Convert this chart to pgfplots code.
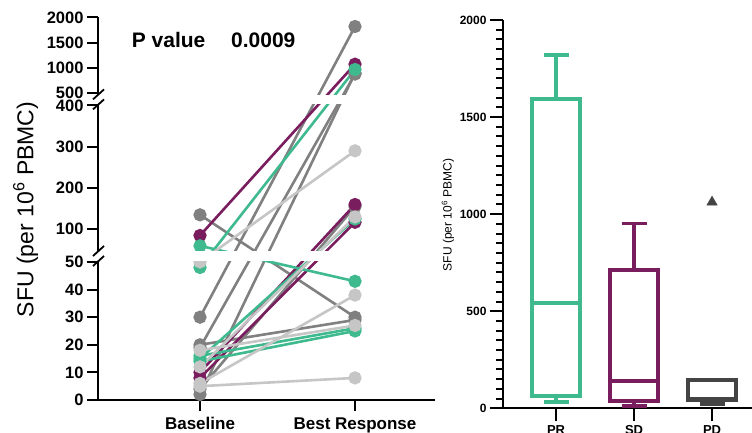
\documentclass[border=0pt]{standalone}
\usepackage{pgfplots}
\pgfplotsset{compat=1.18}
\usepackage{fontspec}
\setmainfont{Liberation Sans}
\definecolor{cteal}{RGB}{63,186,143}
\definecolor{cpurple}{RGB}{122,29,94}
\definecolor{cgray}{RGB}{128,128,128}
\definecolor{clight}{RGB}{198,198,198}
\definecolor{cdark}{RGB}{68,68,68}
\pgfplotsset{pp/.style={line width=2.6pt, mark=*, mark size=5.3pt, mark options={solid}},
  bx/.style={line width=3.8pt, line join=miter, line cap=butt, no marks}}
\begin{document}
\begin{tikzpicture}
% ---------------- left panel (broken y axis via piecewise coord trafo) ----------------
\begin{axis}[
  at={(98pt,33pt)}, anchor=south west,
  scale only axis, width=337pt, height=382.6pt,
  xmin=0.342, xmax=2.516, ymin=0, ymax=2000,
  y coord trafo/.code={\pgfmathparse{(#1<50.001)*(#1*2.76)+and(#1>50.001,#1<450)*(150+(#1-50)*0.413)+(#1>450)*(306.6+(#1-500)*0.0506)}},
  axis x line*=bottom, axis y line*=left,
  axis line style={line width=2.2pt, -},
  tick style={line width=2pt, black},
  major tick length=11pt, tick align=outside,
  xtick={1,2}, xticklabels={Baseline, Best Response},
  ytick={0,10,20,30,40,50,100,200,300,400,500,1000,1500,2000},
  yticklabels={0,10,20,30,40,50,100,200,300,400,500,1000,1500,2000},
  yticklabel style={font=\fontsize{16.5}{18}\selectfont\bfseries},
  xticklabel style={font=\fontsize{17}{19}\selectfont\bfseries, yshift=-3pt},
  clip=false,
]
\addplot[cgray, pp] coordinates {(1,135) (2,30)};
\addplot[cgray, pp] coordinates {(1,30) (2,1820)};
\addplot[cgray, pp] coordinates {(1,20) (2,29)};
\addplot[cgray, pp] coordinates {(1,19) (2,880)};
\addplot[cgray, pp] coordinates {(1,2) (2,900)};
\addplot[cgray, pp] coordinates {(1,4) (2,155)};
\addplot[cpurple, pp] coordinates {(1,85) (2,1075)};
\addplot[cpurple, pp] coordinates {(1,10) (2,160)};
\addplot[cpurple, pp] coordinates {(1,8) (2,117)};
\addplot[cteal, pp] coordinates {(1,60) (2,43)};
\addplot[cteal, pp] coordinates {(1,48) (2,970)};
\addplot[cteal, pp] coordinates {(1,15) (2,125)};
\addplot[cteal, pp] coordinates {(1,14) (2,25)};
\addplot[cteal, pp] coordinates {(1,16) (2,26)};
\addplot[clight, pp] coordinates {(1,50) (2,290)};
\addplot[clight, pp] coordinates {(1,18) (2,27)};
\addplot[clight, pp] coordinates {(1,5) (2,8)};
\addplot[clight, pp] coordinates {(1,6) (2,38)};
\addplot[clight, pp] coordinates {(1,12) (2,130)};
\end{axis}
% axis breaks
\fill[white] (96pt,172pt) rectangle (445pt,182pt);
\fill[white] (96pt,328.8pt) rectangle (445pt,338.4pt);
\draw[line width=1.8pt] (93pt,167pt) -- (104pt,177pt) (93pt,177pt) -- (104pt,187pt);
\draw[line width=1.8pt] (93pt,323.6pt) -- (104pt,333.6pt) (93pt,333.6pt) -- (104pt,343.6pt);
% text
\node[anchor=base west, font=\fontsize{21}{24}\selectfont\bfseries, inner sep=0pt] at (131.7pt,385.3pt) {P value};
\node[anchor=base west, font=\fontsize{21}{24}\selectfont\bfseries, inner sep=0pt] at (231pt,385.3pt) {0.0009};
\node[rotate=90, anchor=base, font=\fontsize{23}{26}\selectfont, inner sep=0pt] at (33.3pt,223.5pt) {SFU (per 10\textsuperscript{6} PBMC)};
% ---------------- right panel (box plots) ----------------
\begin{axis}[
  at={(503pt,24.7pt)}, anchor=south west,
  scale only axis, width=280pt, height=388.3pt,
  xmin=0.32, xmax=3.91, ymin=0, ymax=2000,
  axis x line*=bottom, axis y line*=left,
  axis line style={line width=2.4pt, -},
  tick style={line width=2pt, black},
  major tick length=13pt, minor tick length=7pt, tick align=outside,
  xtick={1,2,3}, xticklabels={PR,SD,PD},
  ytick={0,500,1000,1500,2000}, yticklabels={0,500,1000,1500,2000},
  minor y tick num=9,
  yticklabel style={font=\fontsize{12}{14}\selectfont\bfseries},
  xticklabel style={font=\fontsize{13}{15}\selectfont\bfseries, yshift=-1pt},
  clip=false,
]
% PR: whiskers 31 / 1818, quartiles 65 / 1592, median 543
\addplot[cteal, bx] coordinates {(1,1592) (1,1818)};
\addplot[cteal, bx] coordinates {(0.84,1818) (1.16,1818)};
\addplot[cteal, bx] coordinates {(1,65) (1,31)};
\addplot[cteal, bx] coordinates {(0.84,31) (1.16,31)};
\addplot[cteal, bx, fill=white] coordinates {(0.69,65) (1.31,65) (1.31,1592) (0.69,1592)} --cycle;
\addplot[cteal, bx] coordinates {(0.69,543) (1.31,543)};
% SD: whiskers 13 / 952, quartiles 37 / 712, median 140
\addplot[cpurple, bx] coordinates {(2,712) (2,952)};
\addplot[cpurple, bx] coordinates {(1.84,952) (2.16,952)};
\addplot[cpurple, bx] coordinates {(2,37) (2,13)};
\addplot[cpurple, bx] coordinates {(1.84,13) (2.16,13)};
\addplot[cpurple, bx, fill=white] coordinates {(1.69,37) (2.31,37) (2.31,712) (1.69,712)} --cycle;
\addplot[cpurple, bx] coordinates {(1.69,140) (2.31,140)};
% PD: whiskers 20 / 145, quartiles 42 / 145, median 46, outlier 1062
\addplot[cdark, bx] coordinates {(3,42) (3,20)};
\addplot[cdark, bx] coordinates {(2.84,22) (3.16,22)};
\addplot[cdark, bx, fill=white] coordinates {(2.69,42) (3.31,42) (3.31,145) (2.69,145)} --cycle;
\addplot[cdark, bx] coordinates {(2.69,46) (3.31,46)};
\addplot[cdark, only marks, mark=triangle*, mark size=6pt] coordinates {(3,1062)};
\end{axis}
\node[rotate=90, anchor=base, font=\fontsize{12}{14}\selectfont, inner sep=0pt] at (451.7pt,218pt) {SFU (per 10\textsuperscript{6} PBMC)};
\pgfresetboundingbox
\useasboundingbox (0pt,0pt) rectangle (752pt,433pt);
\end{tikzpicture}
\end{document}
